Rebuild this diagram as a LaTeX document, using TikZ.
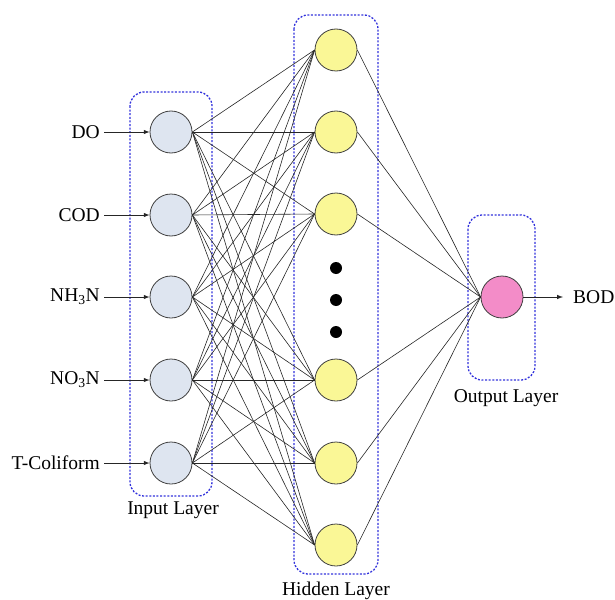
\documentclass[tikz,border=0pt]{standalone}
\usepackage{fontspec}
\setmainfont{Liberation Serif}
\usepackage{xcolor}
\usepackage{tikz}
\usetikzlibrary{arrows}

\definecolor{inblue}{RGB}{222,229,240}
\definecolor{hidyellow}{RGB}{250,247,150}
\definecolor{outpink}{RGB}{243,140,200}
\definecolor{boxblue}{RGB}{50,50,220}

\tikzset{
  neuron/.style={circle,draw=black!75,thick,minimum size=42pt,inner sep=0pt},
  layerbox/.style={draw=boxblue,line width=1.3pt,dash pattern=on 2pt off 1.6pt,rounded corners=14pt},
  lbl/.style={font=\fontsize{19.5}{22}\selectfont,inner sep=4pt},
  link/.style={draw=black!85,line width=0.6pt},
  feed/.style={draw=black!85,line width=1pt}
}

\begin{document}
\begin{tikzpicture}[x=1pt,y=-1pt]
    \useasboundingbox (0,0) rectangle (615,599);

    % layer boxes
    \draw[layerbox] (130,92) rectangle (212,496);
    \draw[layerbox] (294,15) rectangle (378,574);
    \draw[layerbox] (468,215) rectangle (535,380);
    \node[lbl] (inlayer) at (173,510) {Input Layer};
    \node[lbl] (hidlayer) at (336,591) {Hidden Layer};
    \node[lbl] (outlayer) at (506,398) {Output Layer};

    % input nodes
    \foreach \i/\y/\t in {1/132/DO,2/215/COD,3/297/NH\textsubscript{3}N,4/380/NO\textsubscript{3}N,5/463/T-Coliform}{
        \node[neuron,fill=inblue] (in\i) at (171,\y) {};
        \node[lbl,anchor=east] (x\i) at (104,\y) {\t};
        \draw[->,-latex,feed] (x\i) -- (in\i);
    }

    % hidden nodes
    \foreach \j/\y in {1/50,2/132,3/214,4/380,5/463,6/545}
        \node[neuron,fill=hidyellow] (hid\j) at (336,\y) {};
    \foreach \y in {268,300,332}
        \fill (336,\y) circle (6pt);

    % output node
    \node[neuron,fill=outpink] (out) at (502,297) {};
    \node[lbl,anchor=west] (bod) at (569,297) {BOD};
    \draw[->,-latex,feed] (out) -- ([xshift=-6pt]bod.west);

    \foreach \i in {1,...,5}
        \foreach \j in {1,...,6}
            \draw[link] (in\i.east) -- (hid\j.west);
    \foreach \j in {1,...,6}
        \draw[link] (hid\j.east) -- (out.west);
\end{tikzpicture}
\end{document}
